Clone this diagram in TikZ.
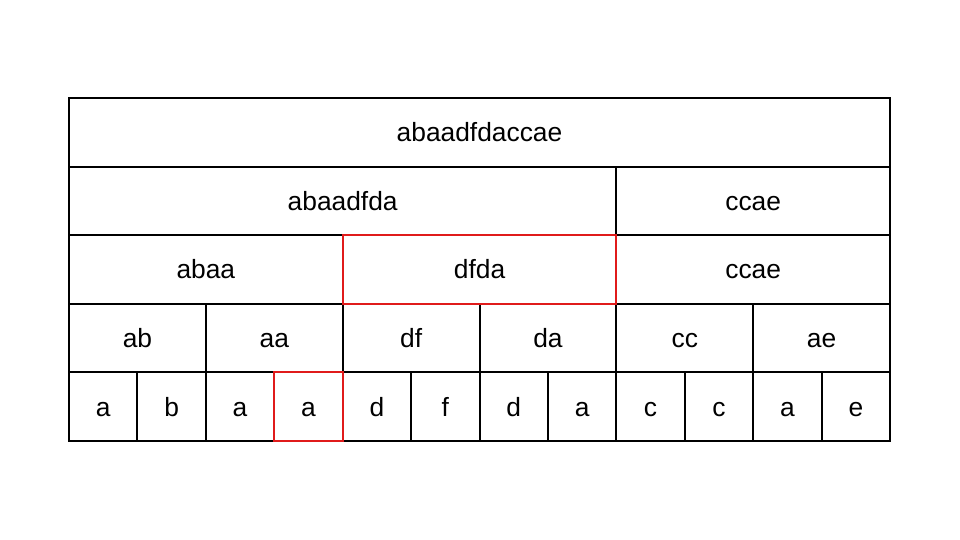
\documentclass[tikz,border=0pt]{standalone}
\usepackage{fontspec}
\setmainfont{Liberation Sans}
\usepackage{tikz}
\usetikzlibrary{calc, positioning}
\definecolor{hlred}{RGB}{224,27,27}

\begin{document}
\begin{tikzpicture}[
    cell/.style={draw, line width=1.15pt, inner sep=0pt, outer sep=0pt, anchor=north west,
                 minimum height=1.372cm, text height=1.26em, text depth=0.2em,
                 font=\fontsize{15}{18}\selectfont},
    hlbox/.style={draw=hlred, line width=1.15pt}
]
    \useasboundingbox (0,0) rectangle (19.2,10.8);

    \def\W{1.3684}   % column width
    \def\H{1.372}    % row height
    \def\X{1.38}     % left edge
    \def\Y{8.84}     % top edge

    % root row
    \node[cell, minimum width={12*\W*1cm}] (root) at (\X,\Y) {abaadfdaccae};

    % second row
    \node[cell, minimum width={8*\W*1cm}] (l1a) at (root.south west) {abaadfda};
    \node[cell, minimum width={4*\W*1cm}] (l1b) at (l1a.north east) {ccae};

    % third row
    \node[cell, minimum width={4*\W*1cm}] (l2a) at (l1a.south west) {abaa};
    \node[cell, minimum width={4*\W*1cm}] (l2b) at (l2a.north east) {dfda};
    \node[cell, minimum width={4*\W*1cm}] (l2c) at (l2b.north east) {ccae};

    % fourth row
    \foreach \t [count=\i] in {ab,aa,df,da,cc,ae}
        \node[cell, minimum width={2*\W*1cm}] (l3-\i) at ({\X+(\i-1)*2*\W},{\Y-3*\H}) {\t};

    % leaves
    \foreach \t [count=\i] in {a,b,a,a,d,f,d,a,c,c,a,e}
        \node[cell, minimum width={\W*1cm}] (leaf-\i) at ({\X+(\i-1)*\W},{\Y-4*\H}) {\t};

    % highlighted cells
    \draw[hlbox] (l2b.south west) rectangle (l2b.north east);
    \draw[hlbox] (leaf-4.south west) rectangle (leaf-4.north east);

\end{tikzpicture}
\end{document}
